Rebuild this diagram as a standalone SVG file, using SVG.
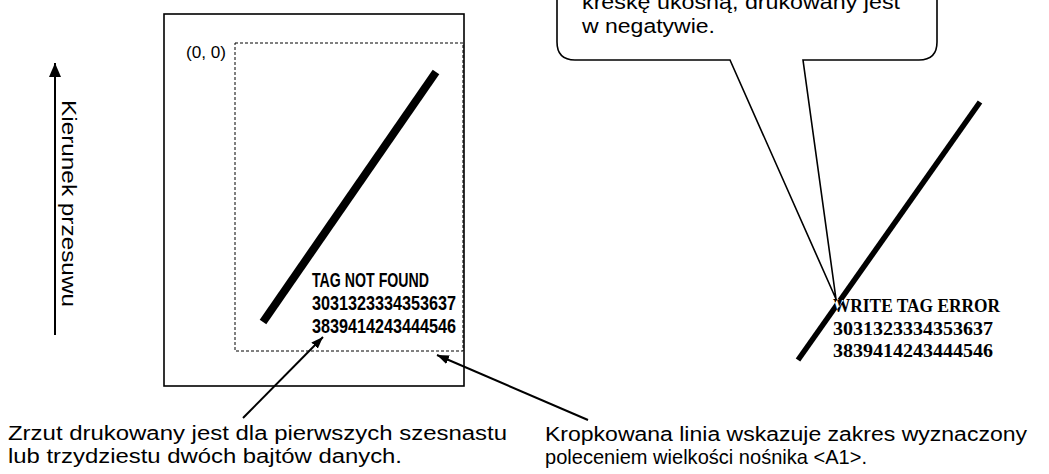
<svg xmlns="http://www.w3.org/2000/svg" width="1049" height="474" viewBox="0 0 1049 474">
  <style>
    .lbl { font-family: "Liberation Sans", Arial, sans-serif; font-size: 20px; fill: #000; }
    .small { font-family: "Liberation Sans", Arial, sans-serif; font-size: 16px; fill: #000; }
    .tag { font-family: "Liberation Sans", Arial, sans-serif; font-size: 20px; font-weight: bold; fill: #000; }
    .err { font-family: "Liberation Serif", "Times New Roman", serif; font-size: 18px; font-weight: bold; fill: #000; }
    .conn { stroke: #000; stroke-width: 2; fill: none; }
  </style>
  <defs>
    <marker id="head" markerUnits="userSpaceOnUse" markerWidth="12" markerHeight="9" refX="12" refY="4.5" orient="auto">
      <path d="M0,0 L12,4.5 L0,9 Z" fill="#000"/>
    </marker>
    <marker id="headBig" markerUnits="userSpaceOnUse" markerWidth="14" markerHeight="12" refX="14" refY="6" orient="auto">
      <path d="M0,0 L14,6 L0,12 Z" fill="#000"/>
    </marker>
    <clipPath id="slashClip">
      <polygon points="800.25,361.6 982.25,103.6 977.75,100.4 795.75,358.4"/>
    </clipPath>
  </defs>
  <rect width="1049" height="474" fill="#fff"/>

  <g id="direction">
    <line x1="55" y1="335" x2="55" y2="63" class="conn" marker-end="url(#headBig)"/>
    <text class="lbl" transform="translate(62,100) rotate(90)" textLength="207" lengthAdjust="spacingAndGlyphs">Kierunek przesuwu</text>
  </g>

  <g id="medium">
    <rect x="164" y="14" width="300" height="372" fill="none" stroke="#000" stroke-width="1.6"/>
  </g>

  <g id="print-area">
    <rect x="235" y="43" width="228" height="308" fill="none" stroke="#000" stroke-width="1" stroke-dasharray="3,2"/>
    <text class="small" x="186" y="58" textLength="40" lengthAdjust="spacingAndGlyphs">(0, 0)</text>
  </g>

  <g id="slash-left">
    <line x1="263" y1="322" x2="436" y2="72" stroke="#000" stroke-width="8"/>
  </g>

  <g id="dump-left">
    <text class="tag" x="312" y="287" textLength="117" lengthAdjust="spacingAndGlyphs">TAG NOT FOUND</text>
    <text class="tag" x="312" y="310" textLength="144" lengthAdjust="spacingAndGlyphs">3031323334353637</text>
    <text class="tag" x="312" y="333" textLength="144" lengthAdjust="spacingAndGlyphs">3839414243444546</text>
  </g>

  <g id="callout">
    <path d="M557,-10 L557,42 Q557,60 575,60 L730,60 L836,299 L803,60 L919,60 Q937,60 937,42 L937,-10" fill="#fff" stroke="#000" stroke-width="1.6" stroke-linejoin="miter"/>
    <text class="lbl" x="582" y="9" textLength="318" lengthAdjust="spacingAndGlyphs">kreskę ukośną, drukowany jest</text>
    <text class="lbl" x="582" y="33" textLength="133" lengthAdjust="spacingAndGlyphs">w negatywie.</text>
  </g>

  <g id="error-print">
    <text class="err" x="833" y="312" textLength="167" lengthAdjust="spacingAndGlyphs">WRITE TAG ERROR</text>
    <text class="err" x="833" y="335" textLength="160" lengthAdjust="spacingAndGlyphs">3031323334353637</text>
    <text class="err" x="833" y="357" textLength="160" lengthAdjust="spacingAndGlyphs">3839414243444546</text>
    <polygon points="800.25,361.6 982.25,103.6 977.75,100.4 795.75,358.4" fill="#000"/>
    <g clip-path="url(#slashClip)">
      <text class="err" x="833" y="312" textLength="167" lengthAdjust="spacingAndGlyphs" style="fill:#fff">WRITE TAG ERROR</text>
    </g>
  </g>

  <g id="connectors">
    <line x1="243" y1="418" x2="323" y2="337" class="conn" marker-end="url(#head)"/>
    <line x1="588" y1="420" x2="437" y2="355" class="conn" marker-end="url(#head)"/>
  </g>

  <g id="note-dump">
    <text class="lbl" x="8" y="440" textLength="499" lengthAdjust="spacingAndGlyphs">Zrzut drukowany jest dla pierwszych szesnastu</text>
    <text class="lbl" x="8" y="463" textLength="394" lengthAdjust="spacingAndGlyphs">lub trzydziestu dwóch bajtów danych.</text>
  </g>

  <g id="note-area">
    <text class="lbl" x="545" y="441" textLength="482" lengthAdjust="spacingAndGlyphs">Kropkowana linia wskazuje zakres wyznaczony</text>
    <text class="lbl" x="545" y="464" textLength="322" lengthAdjust="spacingAndGlyphs" style="font-size:21px">poleceniem wielkości nośnika &lt;A1&gt;.</text>
  </g>
</svg>
